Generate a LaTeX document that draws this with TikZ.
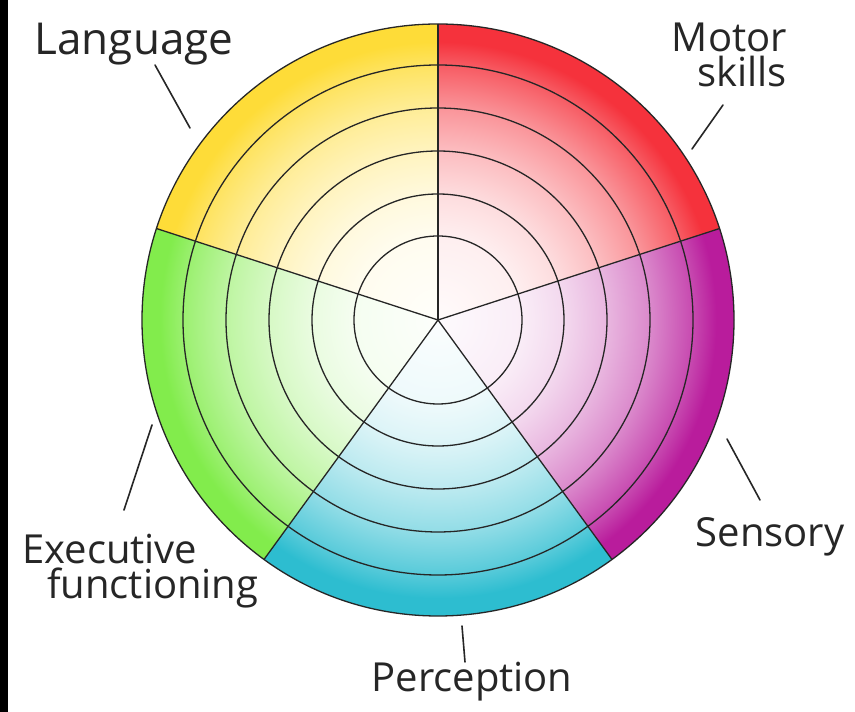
\documentclass[tikz,border=0pt]{standalone}
\usepackage{fontspec}
\setmainfont{Open Sans}
\usepackage{tikz}

\definecolor{motorred}{HTML}{F5323C}
\definecolor{sensepurple}{HTML}{B91C9C}
\definecolor{perccyan}{HTML}{2DBDD0}
\definecolor{execgreen}{HTML}{82EC4C}
\definecolor{langyellow}{HTML}{FEDC38}
\definecolor{inkgray}{HTML}{262626}
\colorlet{wheelc}{motorred}
% the path's box is mapped to the inner 50bp square, so the rim sits at 25bp
\pgfdeclareradialshading[wheelc]{wheelshade}{\pgfpoint{0bp}{0bp}}{%
  color(0bp)=(wheelc!2!white); color(7.1bp)=(wheelc!8!white);
  color(10.65bp)=(wheelc!17!white); color(14.25bp)=(wheelc!32!white);
  color(17.9bp)=(wheelc!52!white); color(21.55bp)=(wheelc!80!white);
  color(23.5bp)=(wheelc); color(50bp)=(wheelc)}

\begin{document}
\begin{tikzpicture}[x=1pt, y=1pt,
ring/.style={draw=inkgray, line width=1.3pt},
leader/.style={draw=inkgray, line width=1.6pt, line cap=round},
areatext/.style={font=\fontsize{40}{35}\selectfont, text=inkgray, inner sep=0pt, anchor=base}]
\fill[white] (0,0) rectangle (855,712);
\fill[black] (0,0) rectangle (8,712);
\useasboundingbox (0,0) rectangle (855,712);

% the wheel
\begin{scope}[shift={(438,392)}]
\coordinate (hub) at (0,0);
\foreach \a/\c in {18/motorred, -54/sensepurple, -126/perccyan, 162/execgreen, 90/langyellow}{
  \begin{scope}
    \colorlet{wheelc}{\c}
    \clip (hub) -- (\a:296) arc[start angle=\a, delta angle=72, radius=296] -- cycle;
    \shade[shading=wheelshade] (hub) circle[radius=296];
  \end{scope}
}
\foreach \r in {84,126,169,212,255,296}
  \draw[ring] (hub) circle[radius=\r];
\foreach \a in {90,18,-54,-126,162}
  \draw[ring] (hub) -- (\a:296);
\end{scope}

% labels
\node[areatext, font=\fontsize{44}{46}\selectfont] (lang) at (134,657) {Language};
\node[areatext, anchor=north east, align=right] (motor) at (787,689) {Motor\\skills};
\node[areatext] (sensory) at (770,165) {Sensory};
\node[areatext] (perc) at (472,20) {Perception};
\node[areatext, anchor=north west, align=left] (exec) at (22,178) {Executive\\\hspace*{25pt}functioning};

% leader strokes
\coordinate (langa) at (155,647);
\coordinate (langb) at (190,584);
\coordinate (motora) at (723,607);
\coordinate (motorb) at (692,563);
\coordinate (sensa) at (727,273);
\coordinate (sensb) at (760,212);
\coordinate (execa) at (152,287);
\coordinate (execb) at (124,202);
\coordinate (perca) at (462,86);
\coordinate (percb) at (465,50);
\draw[leader] (langa) -- (langb);
\draw[leader] (motora) -- (motorb);
\draw[leader] (sensa) -- (sensb);
\draw[leader] (execa) -- (execb);
\draw[leader] (perca) -- (percb);
\end{tikzpicture}
\end{document}
